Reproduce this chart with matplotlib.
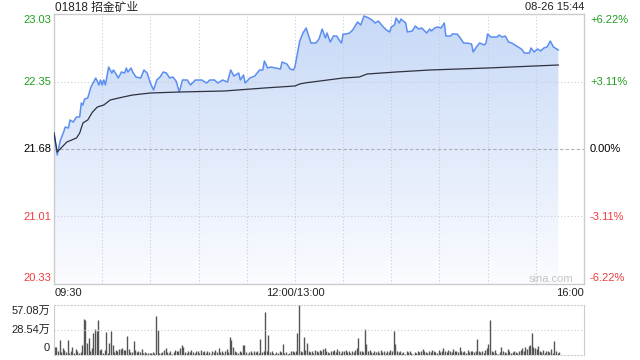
import numpy as np
import matplotlib
matplotlib.use("Agg")
import matplotlib.pyplot as plt
from matplotlib.colors import LinearSegmentedColormap
from matplotlib.patches import Polygon

plt.rcParams['font.family'] = ['Liberation Sans', 'Noto Sans CJK SC', 'DejaVu Sans']

# minutes since 09:30 (lunch break removed; 150 = 12:00/13:00, 330 = 16:00)
price_min = [0, 2, 4, 6, 7, 9, 10, 12, 14, 16, 17, 18, 19, 21, 23, 26, 28, 29, 30, 31,
             32, 34, 36, 37, 39, 40, 42, 44, 45, 46, 48, 49, 51, 54, 56, 58, 60, 62, 64, 66,
             68, 70, 72, 74, 76, 78, 80, 83, 85, 88, 92, 95, 97, 100, 102, 105, 108, 110, 112, 115,
             116, 118, 119, 122, 125, 128, 130, 131, 133, 135, 138, 141, 142, 145, 147, 149, 150,
             153, 154, 155, 157, 160, 163, 165, 167, 169, 170, 172, 174, 176, 178, 179, 180, 182, 184, 186, 189,
             191, 193, 196, 198, 200, 202, 205, 207, 209, 210, 212, 213, 215, 216, 219, 220, 223, 225, 227, 229,
             232, 234, 235, 237, 239, 241, 243, 244, 247, 248, 251, 253, 255, 257, 260, 261, 263, 265, 268, 269,
             270, 272, 276, 277, 279, 281, 283, 285, 288, 291, 293, 296, 297, 299, 301, 303, 305, 307, 309, 311,
             314]
price = [21.84, 21.62, 21.77, 21.85, 21.90, 21.89, 21.97, 21.95, 22.00, 22.00,
         22.14, 22.12, 22.18, 22.19, 22.30, 22.39, 22.32, 22.37, 22.32, 22.37,
         22.32, 22.50, 22.44, 22.47, 22.42, 22.39, 22.45, 22.44, 22.49, 22.45,
         22.49, 22.45, 22.40, 22.39, 22.47, 22.44, 22.34, 22.27, 22.37, 22.40,
         22.45, 22.44, 22.39, 22.40, 22.36, 22.25, 22.37, 22.37, 22.32, 22.37,
         22.37, 22.34, 22.37, 22.37, 22.34, 22.37, 22.35, 22.47, 22.41, 22.44,
         22.37, 22.42, 22.34, 22.39, 22.41, 22.47, 22.47, 22.56, 22.49, 22.50,
         22.49, 22.48, 22.55, 22.53, 22.48, 22.47, 22.50,
         22.76, 22.80, 22.84, 22.89, 22.74, 22.74, 22.78, 22.88, 22.79, 22.84,
         22.75, 22.81, 22.81, 22.76, 22.74, 22.83, 22.83, 22.84, 22.87, 22.95,
         22.92, 23.01, 22.99, 22.97, 22.94, 22.96, 22.90, 22.87, 22.85, 22.90,
         22.92, 22.99, 22.94, 22.98, 22.94, 22.85, 22.86, 22.91, 22.88, 22.89,
         22.84, 22.88, 22.86, 22.89, 22.90, 22.89, 22.94, 22.81, 22.81, 22.83,
         22.83, 22.79, 22.74, 22.74, 22.73, 22.65, 22.70, 22.74, 22.72, 22.74,
         22.83, 22.80, 22.80, 22.82, 22.80, 22.81, 22.75, 22.74, 22.71, 22.68,
         22.64, 22.64, 22.69, 22.65, 22.68, 22.66, 22.69, 22.70, 22.76, 22.70,
         22.67]

avg_min = [0, 2, 8, 14, 16, 18, 21, 24, 27, 31, 35, 43, 49, 60, 78, 106, 131, 150, 153, 156,
           180, 190, 195, 213, 234, 270, 314]
avg_price = [21.84, 21.65, 21.75, 21.79, 21.84, 21.94, 21.97, 22.05, 22.10, 22.12, 22.17, 22.20,
             22.22, 22.24, 22.25, 22.26, 22.29, 22.31, 22.33, 22.34, 22.39, 22.40, 22.43, 22.45,
             22.47, 22.49, 22.52]

# volume per minute, in 万 shares
vol_am = [8.7, 9.5, 4, 17, 3, 7.6, 5.7, 3.8, 17, 2,
          4, 8.7, 2, 6.5, 4, 2.7, 3.4, 11.4, 40.7, 40,
          13.3, 19, 5, 7.6, 24.7, 29.3, 27.8, 40, 5.7, 6.5,
          2.7, 5.7, 26.6, 2, 13.3, 27.8, 11.4, 3.8, 5.7, 5,
          6.5, 6.5, 7.6, 5.7, 5.7, 21.7, 6.5, 3.8, 3.8, 16.4,
          5.7, 3.8, 5, 3.8, 6.5, 2.7, 3.8, 2.7, 1.9, 2.7,
          2.7, 3.8, 1.9, 44.5, 28.5, 2.7, 1.9, 3.8, 5.7, 7.6,
          3.8, 2, 4, 1.5, 3, 6, 5, 4, 7.6, 11.4,
          9, 3, 2, 4, 3, 6, 3, 2, 5, 4,
          2, 6, 3, 5, 2, 4, 3, 1.5, 5, 3,
          6, 3, 8, 3, 5, 2, 4, 7, 3, 20.9,
          17, 9, 4, 3, 2, 4, 3, 11.4, 11.4, 3,
          1.5, 3, 4, 2, 5, 3, 4, 2, 17.9, 3,
          4, 49.5, 5, 22.8, 3, 4, 2, 1.5, 3, 2,
          4, 3, 12.6, 2, 3, 1.5, 2, 5, 4, 3]
vol_pm = [4, 24.7, 57.08, 5, 3, 20, 6, 14, 4, 3,
          5, 2, 6, 4, 3, 6, 5, 7, 8, 4,
          3, 2, 5, 4, 6, 3, 7, 4, 2, 5,
          4, 6, 3, 5, 2, 4, 3, 6, 8, 19,
          4, 5, 3, 29.5, 12.6, 4, 6, 3, 2, 4,
          3, 5, 2, 6, 3, 4, 2, 5, 3, 6,
          4, 27.8, 12.6, 5, 3, 4, 2, 3, 1.5, 5,
          3, 4, 2, 1.5, 3, 2, 4, 3, 5, 7,
          4, 3, 2, 5, 3, 6, 4, 3, 2, 6,
          3, 4, 8, 5, 3, 6, 4, 3, 7, 5,
          4, 3, 9.5, 5, 3, 4, 2, 6, 3, 4,
          5, 3, 4, 17.9, 4, 3, 5, 2, 6, 8,
          12, 40, 4, 3, 6, 2, 1.5, 3, 9, 4,
          3, 2, 7, 4, 2, 3, 5, 3, 2, 4,
          6, 8, 5, 9, 7, 10, 11.4, 25.5, 9, 8,
          7, 10, 4, 3, 6, 2, 5, 4, 3, 7,
          2, 16.4, 4, 2, 3]

price_ticks = [20.33, 21.01, 21.68, 22.35, 23.03]
price_labels = ['20.33', '21.01', '21.68', '22.35', '23.03']
pct_labels = ['-6.22%', '-3.11%', '0.00%', '+3.11%', '+6.22%']
vol_max = 57.08
vol_labels = ['57.08万', '28.54万', '0']
time_labels = ['09:30', '12:00/13:00', '16:00']

GREEN = '#1f9f1f'
RED = '#f03c3c'
GRID = '#c8ccd4'
W, H = 640, 360

fig = plt.figure(figsize=(6.4, 3.6), dpi=100)
fig.patch.set_facecolor('white')

# ---- price panel
ax = fig.add_axes([54 / W, 1 - 284 / H, 530 / W, 270 / H])
ymin, ymax = price_ticks[0], price_ticks[-1]

grad = np.linspace(0, 1, 256).reshape(-1, 1)
cmap = LinearSegmentedColormap.from_list('fill', ['#fbfcff', '#c7d9f7'])
img = ax.imshow(grad, extent=[0, 330, ymin, ymax], origin='lower', aspect='auto',
                cmap=cmap, zorder=1)
poly = Polygon(list(zip(price_min, price)) + [(price_min[-1], ymin), (price_min[0], ymin)],
               closed=True, facecolor='none', edgecolor='none')
ax.add_patch(poly)
img.set_clip_path(poly)

ax.plot(price_min, price, color='#5b8ef0', lw=1.1, zorder=3)
ax.plot(avg_min, avg_price, color='#2e3140', lw=0.9, zorder=3)

for m in range(30, 330, 30):
    ax.axvline(m, color=GRID, lw=0.8, ls=(0, (1, 2)), zorder=2)
for v in price_ticks[1:-1]:
    if v == price_ticks[2]:
        ax.axhline(v, color='#b0b0b0', lw=0.8, ls=(0, (3, 2)), zorder=2)
    else:
        ax.axhline(v, color=GRID, lw=0.8, ls=(0, (1, 2)), zorder=2)

ax.set_xlim(0, 330)
ax.set_ylim(ymin, ymax)
ax.set_xticks([])
ax.set_yticks([])
for s in ax.spines.values():
    s.set_color('#cccccc')
    s.set_linewidth(1.0)

lab_colors = [RED, RED, 'black', GREEN, GREEN]
lab_y = [278, 216.5, 149, 82, 20]
for lbl, pct, c, yy in zip(price_labels, pct_labels, lab_colors, lab_y):
    fig.text(51 / W, 1 - yy / H, lbl, color=c, fontsize=8, ha='right', va='center')
    fig.text(590 / W, 1 - yy / H, pct, color=c, fontsize=8, ha='left', va='center')

fig.text(55 / W, 1 - 7.5 / H, '01818 招金矿业', fontsize=8.5, ha='left', va='center', color='#222222')
fig.text(584 / W, 1 - 7.5 / H, '08-26 15:44', fontsize=8, ha='right', va='center', color='#222222')
fig.text(573 / W, 1 - 279 / H, 'sina.com', fontsize=8, ha='right', va='center', color='#c4c4c4')

fig.text(55 / W, 1 - 293 / H, time_labels[0], fontsize=8, ha='left', va='center', color='#222222')
fig.text(295 / W, 1 - 293 / H, time_labels[1], fontsize=8, ha='center', va='center', color='#222222')
fig.text(584 / W, 1 - 293 / H, time_labels[2], fontsize=8, ha='right', va='center', color='#222222')

# ---- volume panel
axv = fig.add_axes([54 / W, 1 - 355 / H, 530 / W, 50 / H])
vol = vol_am + vol_pm
vmin = np.arange(len(vol))
axv.vlines(vmin + 0.5, 0, vol, color='#555555', lw=1.0)
axv.axhline(vol_max / 2, color=GRID, lw=0.8, ls=(0, (1, 2)))
axv.set_xlim(0, 330)
axv.set_ylim(0, vol_max)
axv.set_xticks([])
axv.set_yticks([])
for side in ['left', 'right']:
    axv.spines[side].set_color('#cccccc')
for side in ['top', 'bottom']:
    axv.spines[side].set_color(GRID)
    axv.spines[side].set_linestyle((0, (1, 2)))
    axv.spines[side].set_linewidth(0.8)

for lbl, yy in zip(vol_labels, [310.5, 330, 348]):
    fig.text(50 / W, 1 - yy / H, lbl, fontsize=8, ha='right', va='center', color='#222222')

fig.savefig('out.png', dpi=100)
